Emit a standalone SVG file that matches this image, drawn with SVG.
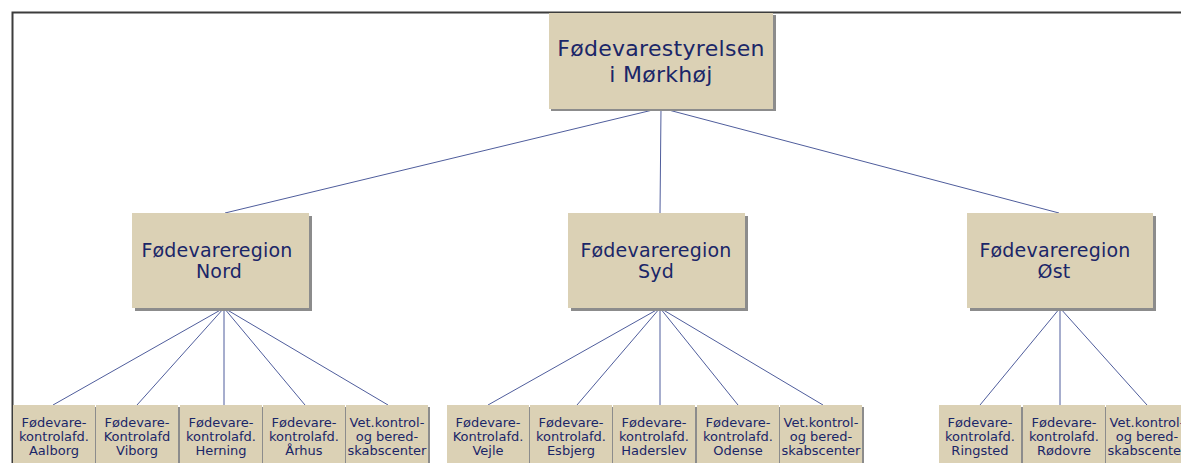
<svg xmlns="http://www.w3.org/2000/svg" width="1181" height="463" viewBox="0 0 1181 463">
<style>
.box{fill:#dbd1b5}
.sh{fill:#8c8c8c}
.t{font-family:"DejaVu Sans",Verdana,sans-serif;fill:#1a2668;text-anchor:middle}
.top{font-size:22px;letter-spacing:0.3px}
.reg{font-size:19px;letter-spacing:0.2px}
.ch{font-size:13px}
.c{stroke:#4f5d9c;stroke-width:1;fill:none}
.frame{stroke:#3c3c3c;stroke-width:2;fill:none}
</style>
<rect width="1181" height="463" fill="#ffffff"/>
<path class="frame" d="M12.5 463 V12.5 H1181"/>
<g id="connectors">
<path class="c" d="M661 108 L225 213 M661 108 L660 213 M661 108 L1059 213"/>
<path class="c" d="M224 308 L53 405 M224 308 L137 405 M224 308 L224 405 M224 308 L305 405 M224 308 L388 405"/>
<path class="c" d="M660 308 L488 405 M660 308 L577 405 M660 308 L660 405 M660 308 L738 405 M660 308 L823 405"/>
<path class="c" d="M1060 308 L980 405 M1060 308 L1060 405 M1060 308 L1147 405"/>
</g>
<g id="n-top">
<rect class="sh" x="551" y="15" width="225" height="96"/>
<rect class="box" x="549" y="13" width="224" height="96"/>
<text class="t top" x="661" y="56">Fødevarestyrelsen</text>
<text class="t top" x="661" y="82">i Mørkhøj</text>
</g>
<g id="n-nord">
<rect class="sh" x="135" y="216" width="177" height="95"/>
<rect class="box" x="132" y="213" width="177" height="95"/>
<text class="t reg" x="217" y="257">Fødevareregion</text>
<text class="t reg" x="219" y="278">Nord</text>
</g>
<g id="n-syd">
<rect class="sh" x="571" y="216" width="177" height="95"/>
<rect class="box" x="568" y="213" width="177" height="95"/>
<text class="t reg" x="656" y="257">Fødevareregion</text>
<text class="t reg" x="656" y="278">Syd</text>
</g>
<g id="n-ost">
<rect class="sh" x="970" y="216" width="186" height="95"/>
<rect class="box" x="967" y="213" width="186" height="95"/>
<text class="t reg" x="1055" y="257">Fødevareregion</text>
<text class="t reg" x="1054" y="278">Øst</text>
</g>
<g id="n-aalborg">
<rect class="sh" x="14" y="407" width="83" height="70"/>
<rect class="box" x="13" y="405" width="82" height="70"/>
<text class="t ch" x="54" y="427">Fødevare-</text>
<text class="t ch" x="54" y="441">kontrolafd.</text>
<text class="t ch" x="54" y="455">Aalborg</text>
</g>
<g id="n-viborg">
<rect class="sh" x="97" y="407" width="83" height="70"/>
<rect class="box" x="96" y="405" width="82" height="70"/>
<text class="t ch" x="137" y="427">Fødevare-</text>
<text class="t ch" x="137" y="441">Kontrolafd</text>
<text class="t ch" x="137" y="455">Viborg</text>
</g>
<g id="n-herning">
<rect class="sh" x="181" y="407" width="83" height="70"/>
<rect class="box" x="180" y="405" width="82" height="70"/>
<text class="t ch" x="221" y="427">Fødevare-</text>
<text class="t ch" x="221" y="441">kontrolafd.</text>
<text class="t ch" x="221" y="455">Herning</text>
</g>
<g id="n-arhus">
<rect class="sh" x="264" y="407" width="83" height="70"/>
<rect class="box" x="263" y="405" width="82" height="70"/>
<text class="t ch" x="304" y="427">Fødevare-</text>
<text class="t ch" x="304" y="441">kontrolafd.</text>
<text class="t ch" x="304" y="455">Århus</text>
</g>
<g id="n-vet-nord">
<rect class="sh" x="347" y="407" width="83" height="70"/>
<rect class="box" x="346" y="405" width="82" height="70"/>
<text class="t ch" x="387" y="427">Vet.kontrol-</text>
<text class="t ch" x="387" y="441">og bered-</text>
<text class="t ch" x="387" y="455">skabscenter</text>
</g>
<g id="n-vejle">
<rect class="sh" x="448" y="407" width="83" height="70"/>
<rect class="box" x="447" y="405" width="82" height="70"/>
<text class="t ch" x="488" y="427">Fødevare-</text>
<text class="t ch" x="488" y="441">Kontrolafd.</text>
<text class="t ch" x="488" y="455">Vejle</text>
</g>
<g id="n-esbjerg">
<rect class="sh" x="531" y="407" width="83" height="70"/>
<rect class="box" x="530" y="405" width="82" height="70"/>
<text class="t ch" x="571" y="427">Fødevare-</text>
<text class="t ch" x="571" y="441">kontrolafd.</text>
<text class="t ch" x="571" y="455">Esbjerg</text>
</g>
<g id="n-haderslev">
<rect class="sh" x="614" y="407" width="83" height="70"/>
<rect class="box" x="613" y="405" width="82" height="70"/>
<text class="t ch" x="654" y="427">Fødevare-</text>
<text class="t ch" x="654" y="441">kontrolafd.</text>
<text class="t ch" x="654" y="455">Haderslev</text>
</g>
<g id="n-odense">
<rect class="sh" x="698" y="407" width="83" height="70"/>
<rect class="box" x="697" y="405" width="82" height="70"/>
<text class="t ch" x="738" y="427">Fødevare-</text>
<text class="t ch" x="738" y="441">kontrolafd.</text>
<text class="t ch" x="738" y="455">Odense</text>
</g>
<g id="n-vet-syd">
<rect class="sh" x="781" y="407" width="83" height="70"/>
<rect class="box" x="780" y="405" width="82" height="70"/>
<text class="t ch" x="821" y="427">Vet.kontrol-</text>
<text class="t ch" x="821" y="441">og bered-</text>
<text class="t ch" x="821" y="455">skabscenter</text>
</g>
<g id="n-ringsted">
<rect class="sh" x="940" y="407" width="83" height="70"/>
<rect class="box" x="939" y="405" width="82" height="70"/>
<text class="t ch" x="980" y="427">Fødevare-</text>
<text class="t ch" x="980" y="441">kontrolafd.</text>
<text class="t ch" x="980" y="455">Ringsted</text>
</g>
<g id="n-rodovre">
<rect class="sh" x="1024" y="407" width="83" height="70"/>
<rect class="box" x="1023" y="405" width="82" height="70"/>
<text class="t ch" x="1064" y="427">Fødevare-</text>
<text class="t ch" x="1064" y="441">kontrolafd.</text>
<text class="t ch" x="1064" y="455">Rødovre</text>
</g>
<g id="n-vet-ost">
<rect class="sh" x="1107" y="407" width="83" height="70"/>
<rect class="box" x="1106" y="405" width="82" height="70"/>
<text class="t ch" x="1147" y="427">Vet.kontrol-</text>
<text class="t ch" x="1147" y="441">og bered-</text>
<text class="t ch" x="1147" y="455">skabscenter</text>
</g>
</svg>
